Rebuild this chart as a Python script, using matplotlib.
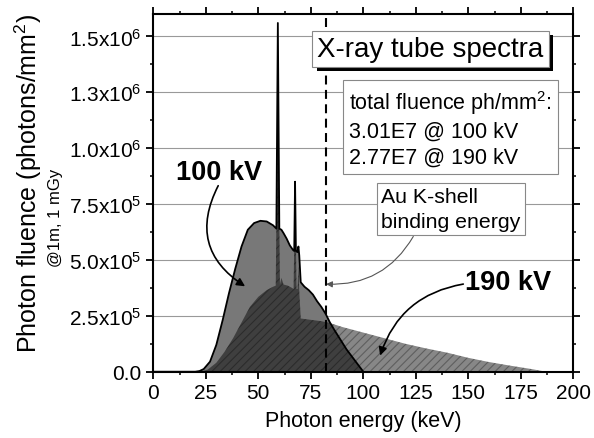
import numpy as np
import matplotlib
matplotlib.use("Agg")
from matplotlib import pyplot as plt
from matplotlib import patheffects

plt.rcParams['font.family'] = ['Liberation Sans', 'DejaVu Sans']
plt.rcParams['mathtext.default'] = 'regular'
plt.rcParams['hatch.linewidth'] = 0.8

# 100 kV spectrum (keV, photons/mm^2)
e100 = [0, 20, 22, 24, 27, 30, 33, 36, 39, 42, 45, 48, 51, 54, 57, 58.6, 59.3, 60.0,
        61, 62, 63.5, 65, 66.5, 67.1, 67.5, 67.9, 68.6, 69.1, 69.5, 70.2, 72, 74, 76,
        78, 80, 82, 84, 86, 88, 90, 92, 94, 96, 98, 100, 200]
f100 = [0, 0, 0.003, 0.012, 0.045, 0.12, 0.23, 0.35, 0.46, 0.56, 0.635, 0.665, 0.675,
        0.672, 0.655, 0.64, 1.56, 0.64, 0.635, 0.62, 0.595, 0.565, 0.545, 0.54, 0.85,
        0.54, 0.535, 0.56, 0.52, 0.40, 0.38, 0.365, 0.345, 0.315, 0.29, 0.26, 0.222,
        0.19, 0.16, 0.13, 0.10, 0.075, 0.05, 0.025, 0, 0]

# 190 kV spectrum
e190 = [0, 20, 23, 26, 30, 34, 38, 42, 46, 50, 54, 57, 58.3, 59.3, 60.3, 61, 62, 64,
        66, 66.8, 67.5, 68.2, 68.7, 69.1, 69.5, 70.2, 75, 80, 84, 90, 100, 110, 120,
        130, 140, 150, 160, 170, 180, 187, 200]
f190 = [0, 0, 0, 0.01, 0.04, 0.09, 0.15, 0.22, 0.29, 0.335, 0.365, 0.38, 0.385, 1.33,
        0.39, 0.42, 0.39, 0.385, 0.375, 0.37, 0.84, 0.37, 0.37, 0.48, 0.36, 0.238,
        0.232, 0.226, 0.218, 0.2, 0.175, 0.15, 0.125, 0.104, 0.085, 0.062, 0.043,
        0.027, 0.012, 0, 0]

au_k_edge = 82.0
yticks = [0, 0.25e6, 0.5e6, 0.75e6, 1.0e6, 1.25e6, 1.5e6]
ytick_labels = ['0.0', '2.5x10$^5$', '5.0x10$^5$', '7.5x10$^5$',
                '1.0x10$^6$', '1.3x10$^6$', '1.5x10$^6$']
xticks = [0, 25, 50, 75, 100, 125, 150, 175, 200]

e100 = np.array(e100)
f100 = np.array(f100) * 1e6
e190 = np.array(e190)
f190 = np.array(f190) * 1e6

fig = plt.figure(figsize=(5.94, 4.39), dpi=100)
ax = fig.add_axes([0.2581, 0.151, 0.7071, 0.8148])

ax.fill_between(e100, 0, f100, facecolor='#787878', linewidth=0, zorder=2)
ax.fill_between(e190, 0, f190, facecolor=(0, 0, 0, 0.47), edgecolor=(0, 0, 0, 0.3),
                hatch='////', linewidth=0, zorder=3)
ax.plot(e100[e100 <= 100], f100[e100 <= 100], color='black', lw=1.3, zorder=4)

ax.axvline(au_k_edge, color='black', lw=1.5, linestyle=(0, (4.3, 2.6)), zorder=5)

ax.set_xlim(0, 200)
ax.set_ylim(0, 1.6e6)
ax.set_xticks(xticks)
ax.set_xticks(np.arange(0, 201, 12.5), minor=True)
ax.set_yticks(yticks)
ax.set_yticklabels(ytick_labels)
ax.set_yticks(np.arange(0, 1.6e6, 0.125e6), minor=True)
ax.tick_params(which='major', direction='out', length=5, width=1.3, labelsize=15,
               top=True, right=True)
ax.tick_params(which='minor', direction='out', length=2.5, width=1.1, top=True, right=True)
ax.tick_params(axis='x', pad=3)
ax.grid(axis='y', which='major', color='#999999', lw=0.8)
ax.set_axisbelow(True)
for s in ax.spines.values():
    s.set_linewidth(1.5)

ax.set_xlabel('Photon energy (keV)', fontsize=15.5, labelpad=6)
fig.text(0.048, 0.583, 'Photon fluence (photons/mm$^2$)', rotation=90, fontsize=18,
         ha='center', va='center')
fig.text(0.093, 0.503, '@1m, 1 mGy', rotation=90, fontsize=12, ha='center', va='center')

title = ax.text(132, 1.445e6, 'X-ray tube spectra', fontsize=20, ha='center',
                va='center', zorder=10,
                bbox=dict(boxstyle='square,pad=0.18', facecolor='white',
                          edgecolor='#888888', lw=0.8))
title.get_bbox_patch().set_path_effects(
    [patheffects.withSimplePatchShadow(offset=(3, -3), shadow_rgbFace='black', alpha=1)])

ax.text(93.3, 1.09e6, 'total fluence ph/mm$^2$:\n3.01E7 @ 100 kV\n2.77E7 @ 190 kV',
        fontsize=15.5, ha='left', va='center', linespacing=1.3, zorder=10,
        bbox=dict(boxstyle='square,pad=0.3', facecolor='white', edgecolor='#888888', lw=0.8))
ax.text(108.5, 0.728e6, 'Au K-shell\nbinding energy', fontsize=15.3, ha='left',
        va='center', linespacing=1.38, zorder=10,
        bbox=dict(boxstyle='square,pad=0.2', facecolor='white', edgecolor='#888888', lw=0.8))

ax.text(31.3, 0.893e6, '100 kV', fontsize=19.5, fontweight='bold', ha='center',
        va='center', zorder=10)
ax.text(168.9, 0.403e6, '190 kV', fontsize=19.5, fontweight='bold', ha='center',
        va='center', zorder=10)

ax.annotate('', xy=(43.7, 0.382e6), xytext=(30.9, 0.832e6), zorder=10,
            arrowprops=dict(arrowstyle='-|>', color='black', lw=1.2, mutation_scale=12,
                            shrinkA=0, shrinkB=0, connectionstyle='arc3,rad=0.45'))
ax.annotate('', xy=(108, 0.072e6), xytext=(147.6, 0.392e6), zorder=10,
            arrowprops=dict(arrowstyle='-|>', color='black', lw=1.2, mutation_scale=12,
                            shrinkA=0, shrinkB=0, connectionstyle='arc3,rad=0.3'))
ax.annotate('', xy=(82.3, 0.392e6), xytext=(123.8, 0.605e6), zorder=10,
            arrowprops=dict(arrowstyle='-|>', color='#555555', lw=0.8, mutation_scale=9,
                            shrinkA=0, shrinkB=0, connectionstyle='arc3,rad=-0.3'))

fig.savefig('out.png', dpi=100)
